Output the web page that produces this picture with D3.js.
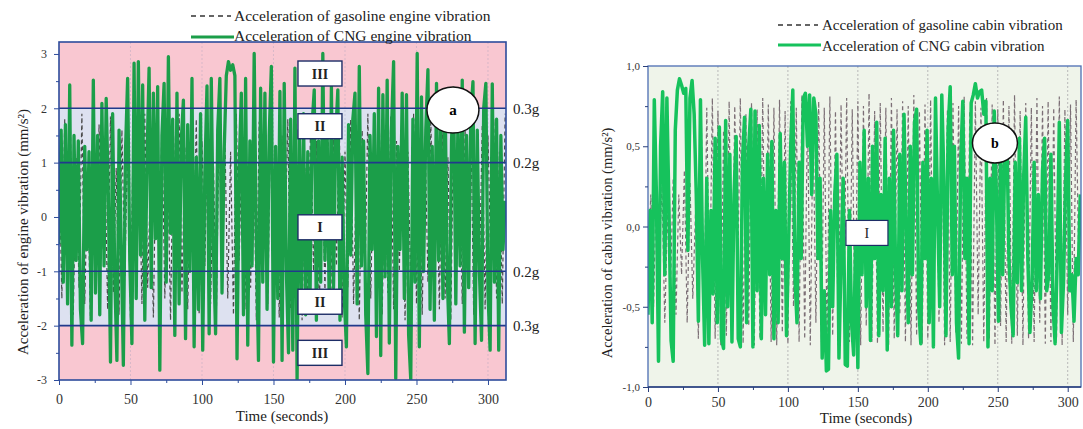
<!DOCTYPE html>
<html><head><meta charset="utf-8">
<script src="https://cdn.jsdelivr.net/npm/d3@7"></script>
<style>
body{margin:0;background:#fff;}
svg{display:block;font-family:"Liberation Serif","Times New Roman",serif;}
</style></head><body>
<svg id="chart" width="1083" height="429"></svg>
<script>
// ---------- data ----------
// engine vibration, CNG (sampled every 1.5 s)
const engineCNGStep = 1.5;
const engineCNG = [
 -0.5,1.6,-1.2,1.7,-1.6,2.43,-2.36,1.5,-0.8,1.4,
 -1.7,-2.33,1.3,-0.6,1.2,-1.9,2.52,-1.4,1.5,-1.8,
 2.09,-0.9,2.18,0.4,-2.67,1.9,-1.1,-2.64,1.6,-0.5,
 -2.73,1.2,2.55,-0.8,-2.33,2.83,-1.5,2.86,-0.7,2.43,
 -1.9,1.0,2.74,-1.3,2.28,-0.4,2.4,-2.82,1.5,2.46,
 -1.2,2.95,-0.3,1.8,-2.18,2.28,-1.6,1.4,2.15,-2.24,
 1.7,-1.0,2.55,-2.39,1.1,-1.7,1.9,-2.45,0.8,2.41,
 -2.15,2.55,-0.6,-2.15,1.6,2.55,-1.4,1.2,2.6,2.86,
 2.7,2.8,2.6,-2.61,0.9,2.28,-1.8,2.55,-2.36,1.4,
 -0.9,3.01,-0.5,-2.64,2.37,-1.2,2.28,-1.7,1.5,2.77,
 -2.67,1.3,-1.5,2.31,-2.64,2.46,-1.0,-2.5,1.8,-2.45,
 2.74,-3.0,1.6,-1.4,1.9,-1.8,1.2,-1.6,1.7,2.34,
 -1.9,1.4,-1.2,3.01,-0.8,1.6,-1.7,2.4,-1.3,1.5,
 2.34,-1.9,1.1,-1.5,-2.39,1.7,-0.7,1.8,2.28,-1.6,
 2.77,-0.9,1.4,-1.8,-2.88,1.5,-0.6,1.9,-2.2,2.37,
 -2.55,2.25,-1.1,2.52,-2.32,1.6,2.86,-2.97,1.3,-0.6,
 2.28,-1.5,2.25,-2.17,-3.0,1.8,-1.2,3.01,-2.39,2.21,
 -1.0,1.6,2.71,-1.7,1.3,-1.9,2.46,-0.8,1.7,-1.5,
 2.28,-1.1,-2.33,1.4,2.37,-1.6,1.8,-0.9,2.52,-2.12,
 1.5,-1.3,1.9,2.49,-2.33,1.6,-1.0,-2.27,2.0,2.46,
 -1.4,-2.45,2.45,-1.2,1.8,-2.45,1.5,-0.6,0.3
];
// engine vibration, gasoline (sampled every 2 s)
const engineGasStep = 2;
const engineGasoline = [
 1.2,-1.5,1.8,-0.9,1.6,-1.8,1.1,-1.3,1.9,-1.6,
 0.8,-1.9,1.5,-1.2,1.7,-0.6,1.3,-1.7,1.85,-1.4,
 0.9,-1.8,1.6,-1.1,1.4,-1.9,1.8,-0.8,1.2,-1.6,
 1.9,-1.3,0.7,-1.85,1.5,-1.0,1.75,-1.5,1.1,-1.9,
 1.6,-0.7,1.9,-1.4,1.3,-1.7,0.9,-1.2,1.8,-1.8,
 1.4,-0.9,1.7,-1.6,1.0,-1.9,1.85,-1.1,1.5,-1.5,
 1.2,-1.8,1.9,-0.8,1.4,-1.7,0.8,-1.3,1.6,-1.9,
 1.75,-1.0,1.2,-1.6,1.9,-1.4,1.0,-1.85,1.5,-0.7,
 1.8,-1.7,1.3,-1.2,1.6,-1.9,0.9,-1.5,1.85,-1.0,
 1.4,-1.8,1.1,-1.4,1.9,-1.6,1.5,-0.9,1.7,-1.85,
 1.2,-1.3,1.8,-1.6,0.8,-1.9,1.6,-1.1,1.9,-1.5,
 1.3,-0.8,1.75,-1.8,1.0,-1.4,1.85,-1.7,1.4,-1.0,
 1.6,-1.9,1.2,-1.3,1.9,-1.6,0.9,-1.8,1.5,-1.2,
 1.8,-0.7,1.3,-1.7,1.7,-1.5,1.1,-1.9,1.85,-1.0,
 1.4,-1.6,1.6,-1.3,1.9,-1.8,1.0,-1.1,1.7,-1.7,
 1.5,-0.9,1.8,-1.5,1.2,-1.6,1.9
];
// cabin vibration, CNG (sampled every 1.5 s)
const cabinCNGStep = 1.5;
const cabinCNG = [
 -0.55,0.1,-0.6,0.79,0.2,-0.84,0.5,0.84,-0.3,0.8,
 0.1,-0.71,-0.84,0.6,0.85,0.92,0.88,0.83,0.86,-0.15,
 0.8,0.91,0.7,0.2,-0.59,0.79,-0.2,-0.74,0.3,-0.73,
 0.1,-0.42,0.55,-0.6,0.62,-0.7,-0.76,0.66,-0.5,0.45,
 -0.72,0.2,0.56,-0.7,-0.75,0.4,0.68,-0.6,0.5,0.73,
 -0.75,0.72,-0.4,0.63,-0.7,0.3,-0.55,0.45,-0.3,0.53,
 -0.7,0.1,-0.6,0.58,-0.2,0.4,-0.68,-0.1,0.5,0.85,
 -0.3,-0.6,0.4,-0.2,0.8,0.83,0.5,0.82,0.2,0.8,
 0.7,-0.2,0.3,-0.82,-0.4,-0.9,-0.89,0.1,-0.5,0.2,
 0.45,-0.82,-0.2,0.3,-0.86,-0.87,0.1,-0.6,-0.8,0.0,
 -0.88,0.4,-0.3,0.6,-0.5,0.3,-0.71,0.5,-0.2,0.65,
 -0.68,0.2,-0.4,0.55,-0.77,0.3,-0.5,0.6,-0.3,-0.68,
 0.45,-0.4,0.7,0.0,-0.6,0.5,-0.3,0.65,0.73,-0.5,
 -0.73,0.4,-0.2,0.6,-0.6,0.3,-0.75,0.8,0.1,-0.5,
 0.82,0.3,-0.68,0.6,0.87,-0.3,0.5,-0.6,-0.82,0.4,
 0.78,-0.2,0.3,-0.73,0.77,0.82,0.89,0.8,0.84,0.85,
 0.7,0.78,-0.75,0.3,-0.4,0.72,0.2,-0.59,0.5,-0.3,
 0.45,0.6,-0.2,-0.5,-0.68,0.4,-0.35,0.55,-0.4,0.3,
 0.68,-0.2,-0.66,-0.35,0.4,-0.4,0.2,-0.45,0.35,0.55,
 -0.4,-0.3,0.45,-0.5,-0.73,-0.2,0.65,-0.66,-0.35,0.3,
 0.66,-0.4,-0.3,-0.59,-0.2,-0.3,0.2
];
// cabin vibration, gasoline (sampled every 2 s)
const cabinGasStep = 2;
const cabinGasoline = [
 -0.3,0.2,-0.5,0.3,-0.2,0.25,-0.6,0.1,-0.4,0.3,
 -0.55,0.2,-0.3,0.35,-0.6,0.28,-0.45,0.1,-0.7,0.76,
 -0.72,0.74,-0.5,0.8,-0.7,0.72,-0.74,0.6,-0.68,0.78,
 -0.72,0.75,-0.4,0.8,-0.73,0.7,-0.62,0.77,-0.74,0.73,
 -0.7,0.8,-0.55,0.76,-0.72,0.74,-0.74,0.79,-0.66,0.72,
 -0.73,0.78,-0.5,0.74,-0.72,0.82,-0.7,0.75,-0.74,0.7,
 -0.6,0.78,-0.72,0.74,-0.73,0.81,-0.68,0.72,-0.74,0.76,
 -0.5,0.8,-0.72,0.73,-0.7,0.78,-0.74,0.75,-0.62,0.83,
 -0.72,0.72,-0.73,0.77,-0.66,0.74,-0.74,0.8,-0.7,0.73,
 -0.55,0.78,-0.72,0.75,-0.74,0.82,-0.68,0.72,-0.73,0.76,
 -0.7,0.79,-0.72,0.74,-0.6,0.8,-0.74,0.73,-0.72,0.77,
 -0.66,0.75,-0.73,0.81,-0.7,0.72,-0.74,0.78,-0.55,0.74,
 -0.72,0.8,-0.7,0.76,-0.74,0.73,-0.62,0.79,-0.72,0.75,
 -0.73,0.82,-0.68,0.72,-0.74,0.77,-0.7,0.74,-0.72,0.8,
 -0.6,0.75,-0.73,0.78,-0.72,0.74,-0.7,0.81,-0.74,0.73,
 -0.55,0.76,-0.72,0.79,-0.3
];

const timeTicks = [0, 50, 100, 150, 200, 250, 300];
const timeMinorTicks = [25, 75, 125, 175, 225, 275];
const engineTicks = [-3, -2, -1, 0, 1, 2, 3];
const engineMinorTicks = [-2.5, -1.5, -0.5, 0.5, 1.5, 2.5];
const cabinTicks = [-1, -0.5, 0, 0.5, 1];
const cabinMinorTicks = [-0.75, -0.25, 0.25, 0.75];

// vibration zones of the engine plot
const zoneBounds = [3.22, 2, 1, -1, -2, -3];
const zoneNames = ["III", "II", "I", "II", "III"];
const zoneLabelValues = [2.64, 1.67, -0.19, -1.56, -2.5];
const zoneLabelTime = 182.5;
const thresholdValues = [2, 1, -1, -2];
const thresholdLabels = ["0.3g", "0.2g", "0.2g", "0.3g"];
const cabinZoneLabel = {name: "I", t: 156.5, v: -0.04};

const legendEngine = ["Acceleration of gasoline engine vibration", "Acceleration of CNG engine vibration"];
const legendCabin = ["Acceleration of gasoline cabin vibration", "Acceleration of CNG cabin vibration"];

// ---------- drawing ----------
const svg = d3.select("#chart");
const series = (vals, step) => vals.map((v, i) => ({t: i * step, v}));

const GREEN_ENGINE = "#1b9e49";
const GREEN_CABIN = "#16c25c";

function axisStyle(g, color, size) {
  g.select(".domain").remove();
  g.selectAll("line").attr("stroke", color);
  g.selectAll("text").attr("fill", "#333").attr("font-size", size)
    .attr("font-family", "'Liberation Serif','Times New Roman',serif");
}

/* ===== panel a: engine ===== */
const xA = d3.scaleLinear([0, 312.6], [59, 506]);
const yA = d3.scaleLinear([-3, 3.22], [380, 42]);
const gA = svg.append("g");

svg.append("clipPath").attr("id", "clipA").append("rect")
  .attr("x", xA(0)).attr("y", yA(3.22)).attr("width", xA(312.6) - xA(0)).attr("height", yA(-3) - yA(3.22));

const zoneFill = ["#f9c7d1", "#dde1f0", "#e6e9f4", "#dde1f0", "#f9c7d1"];
gA.selectAll("rect.zone").data(zoneNames).join("rect").attr("class", "zone")
  .attr("x", xA(0)).attr("width", xA(312.6) - xA(0))
  .attr("y", (d, i) => yA(zoneBounds[i]))
  .attr("height", (d, i) => yA(zoneBounds[i + 1]) - yA(zoneBounds[i]))
  .attr("fill", (d, i) => zoneFill[i]);

gA.selectAll("line.grid").data(timeTicks.slice(1)).join("line").attr("class", "grid")
  .attr("x1", d => xA(d)).attr("x2", d => xA(d)).attr("y1", yA(3.22)).attr("y2", yA(-3))
  .attr("stroke", "#9a9ab8").attr("stroke-opacity", 0.35).attr("stroke-dasharray", "2,2");

const lineA = d3.line().x(d => xA(d.t)).y(d => yA(d.v));
const plotA = gA.append("g").attr("clip-path", "url(#clipA)");
plotA.append("path").datum(series(engineGasoline, engineGasStep)).attr("d", lineA)
  .attr("fill", "none").attr("stroke", "#4a4a4a").attr("stroke-width", 1.2)
  .attr("stroke-dasharray", "4,3");
plotA.append("path").datum(series(engineCNG, engineCNGStep)).attr("d", lineA)
  .attr("fill", "none").attr("stroke", GREEN_ENGINE).attr("stroke-width", 3.3)
  .attr("stroke-linejoin", "round");

gA.selectAll("line.thr").data(thresholdValues).join("line").attr("class", "thr")
  .attr("x1", xA(0)).attr("x2", xA(312.6)).attr("y1", d => yA(d)).attr("y2", d => yA(d))
  .attr("stroke", "#203a8c").attr("stroke-width", 1.6);
gA.selectAll("text.thr").data(thresholdValues).join("text").attr("class", "thr")
  .attr("x", 513).attr("y", d => yA(d)).attr("dy", "0.35em")
  .attr("font-size", 15).attr("fill", "#222").text((d, i) => thresholdLabels[i]);

gA.append("rect").attr("x", xA(0)).attr("y", yA(3.22))
  .attr("width", xA(312.6) - xA(0)).attr("height", yA(-3) - yA(3.22))
  .attr("fill", "none").attr("stroke", "#2d4c9c").attr("stroke-width", 1.6);

// zone boxes
const boxes = gA.selectAll("g.zbox").data(zoneNames).join("g").attr("class", "zbox")
  .attr("transform", (d, i) => `translate(${xA(zoneLabelTime)},${yA(zoneLabelValues[i])})`);
boxes.append("rect").attr("x", -22).attr("y", -12.5).attr("width", 44).attr("height", 25)
  .attr("fill", "#fff").attr("stroke", "#1d2d66").attr("stroke-width", 1.4);
boxes.append("text").attr("text-anchor", "middle").attr("dy", "0.36em")
  .attr("font-size", 14).attr("font-weight", "bold").attr("fill", "#222").text(d => d);

// circled panel tag
gA.append("ellipse").attr("cx", xA(275.5)).attr("cy", yA(1.97)).attr("rx", 26).attr("ry", 23)
  .attr("fill", "#fff").attr("stroke", "#111").attr("stroke-width", 1.5);
gA.append("text").attr("x", xA(275.5)).attr("y", yA(1.97)).attr("dy", "0.33em")
  .attr("text-anchor", "middle").attr("font-size", 15).attr("font-weight", "bold").text("a");

// axes
gA.append("g").attr("transform", `translate(${xA(0)},0)`)
  .call(d3.axisLeft(yA).tickValues(engineTicks).tickSize(5).tickPadding(7).tickFormat(d => String(d)))
  .call(g => axisStyle(g, "#2d4c9c", 12));
gA.append("g").attr("transform", `translate(${xA(0)},0)`)
  .call(d3.axisLeft(yA).tickValues(engineMinorTicks).tickSize(3).tickFormat(""))
  .call(g => axisStyle(g, "#2d4c9c", 12));
gA.append("g").attr("transform", `translate(0,${yA(-3)})`)
  .call(d3.axisBottom(xA).tickValues(timeTicks).tickSize(5).tickPadding(9))
  .call(g => axisStyle(g, "#2d4c9c", 14));
gA.append("g").attr("transform", `translate(0,${yA(-3)})`)
  .call(d3.axisBottom(xA).tickValues(timeMinorTicks).tickSize(3).tickFormat(""))
  .call(g => axisStyle(g, "#2d4c9c", 14));

gA.append("text").attr("x", 282).attr("y", 421).attr("text-anchor", "middle")
  .attr("font-size", 15).attr("fill", "#222").text("Time (seconds)");
gA.append("text").attr("transform", "translate(22.5,232) rotate(-90)")
  .attr("text-anchor", "middle").attr("dy", "0.35em")
  .attr("font-size", 15).attr("fill", "#222").text("Acceleration of engine vibration (mm/s²)");

// legend
const legA = gA.append("g");
legA.append("line").attr("x1", 191).attr("x2", 231).attr("y1", 16).attr("y2", 16)
  .attr("stroke", "#333").attr("stroke-width", 1.3).attr("stroke-dasharray", "5,4");
legA.append("line").attr("x1", 191).attr("x2", 234).attr("y1", 37).attr("y2", 37)
  .attr("stroke", GREEN_ENGINE).attr("stroke-width", 3);
legA.selectAll("text").data(legendEngine).join("text")
  .attr("x", 234).attr("y", (d, i) => 21 + i * 20).attr("font-size", 15.5).attr("fill", "#222")
  .text(d => d);

/* ===== panel b: cabin ===== */
const xB = d3.scaleLinear([0, 309.5], [648, 1081]);
const yB = d3.scaleLinear([-1, 1], [387, 66]);
const gB = svg.append("g");

svg.append("clipPath").attr("id", "clipB").append("rect")
  .attr("x", xB(0)).attr("y", yB(1)).attr("width", xB(309.5) - xB(0)).attr("height", yB(-1) - yB(1));

gB.append("rect").attr("x", xB(0)).attr("y", yB(1))
  .attr("width", xB(309.5) - xB(0)).attr("height", yB(-1) - yB(1)).attr("fill", "#eff4ea");
gB.selectAll("line.grid").data(timeTicks.slice(1)).join("line").attr("class", "grid")
  .attr("x1", d => xB(d)).attr("x2", d => xB(d)).attr("y1", yB(1)).attr("y2", yB(-1))
  .attr("stroke", "#b8b8b8").attr("stroke-dasharray", "2,2").attr("stroke-width", 1);

const lineB = d3.line().x(d => xB(d.t)).y(d => yB(d.v));
const plotB = gB.append("g").attr("clip-path", "url(#clipB)");
plotB.append("path").datum(series(cabinGasoline, cabinGasStep)).attr("d", lineB)
  .attr("fill", "none").attr("stroke", "#7c6f76").attr("stroke-width", 1.2)
  .attr("stroke-dasharray", "4,3");
plotB.append("path").datum(series(cabinCNG, cabinCNGStep)).attr("d", lineB)
  .attr("fill", "none").attr("stroke", GREEN_CABIN).attr("stroke-width", 3.5)
  .attr("stroke-linejoin", "round");

gB.append("rect").attr("x", xB(0)).attr("y", yB(1))
  .attr("width", xB(309.5) - xB(0)).attr("height", yB(-1) - yB(1))
  .attr("fill", "none").attr("stroke", "#4c6db3").attr("stroke-width", 1.3);

const boxB = gB.append("g").attr("transform", `translate(${xB(cabinZoneLabel.t)},${yB(cabinZoneLabel.v)})`);
boxB.append("rect").attr("x", -21).attr("y", -12.5).attr("width", 42).attr("height", 25)
  .attr("fill", "#fff").attr("stroke", "#1d2d66").attr("stroke-width", 1.2);
boxB.append("text").attr("text-anchor", "middle").attr("dy", "0.36em")
  .attr("font-size", 14).attr("fill", "#222").text(cabinZoneLabel.name);

gB.append("ellipse").attr("cx", xB(248)).attr("cy", yB(0.52)).attr("rx", 22.5).attr("ry", 20)
  .attr("fill", "#fff").attr("stroke", "#111").attr("stroke-width", 1.5);
gB.append("text").attr("x", xB(248)).attr("y", yB(0.52)).attr("dy", "0.33em")
  .attr("text-anchor", "middle").attr("font-size", 14).attr("font-weight", "bold").text("b");

const commaFmt = d => d3.format(".1f")(d).replace("−", "-").replace(".", ",");
gB.append("g").attr("transform", `translate(${xB(0)},0)`)
  .call(d3.axisLeft(yB).tickValues(cabinTicks).tickSize(5).tickPadding(3).tickFormat(commaFmt))
  .call(g => axisStyle(g, "#2a3f7a", 11));
gB.append("g").attr("transform", `translate(${xB(0)},0)`)
  .call(d3.axisLeft(yB).tickValues(cabinMinorTicks).tickSize(3).tickFormat(""))
  .call(g => axisStyle(g, "#2a3f7a", 11));
gB.append("line").attr("x1", xB(0)).attr("x2", xB(309.5)).attr("y1", yB(-1)).attr("y2", yB(-1))
  .attr("stroke", "#2a3f7a").attr("stroke-width", 1.6);
gB.append("g").attr("transform", `translate(0,${yB(-1)})`)
  .call(d3.axisBottom(xB).tickValues(timeTicks).tickSize(5).tickPadding(5))
  .call(g => axisStyle(g, "#2a3f7a", 14));
gB.append("g").attr("transform", `translate(0,${yB(-1)})`)
  .call(d3.axisBottom(xB).tickValues(timeMinorTicks).tickSize(3).tickFormat(""))
  .call(g => axisStyle(g, "#2a3f7a", 14));

gB.append("text").attr("x", 866).attr("y", 423).attr("text-anchor", "middle")
  .attr("font-size", 15).attr("fill", "#222").text("Time (seconds)");
gB.append("text").attr("transform", "translate(607,243) rotate(-90)")
  .attr("text-anchor", "middle").attr("dy", "0.35em")
  .attr("font-size", 14.5).attr("fill", "#222").text("Acceleration of cabin vibration (mm/s²)");

const legB = gB.append("g");
legB.append("line").attr("x1", 778).attr("x2", 818).attr("y1", 25).attr("y2", 25)
  .attr("stroke", "#333").attr("stroke-width", 1.3).attr("stroke-dasharray", "5,4");
legB.append("line").attr("x1", 778).attr("x2", 821).attr("y1", 45).attr("y2", 45)
  .attr("stroke", GREEN_CABIN).attr("stroke-width", 3);
legB.selectAll("text").data(legendCabin).join("text")
  .attr("x", 822).attr("y", (d, i) => 30 + i * 21).attr("font-size", 15).attr("fill", "#222")
  .text(d => d);
</script>
</body></html>
